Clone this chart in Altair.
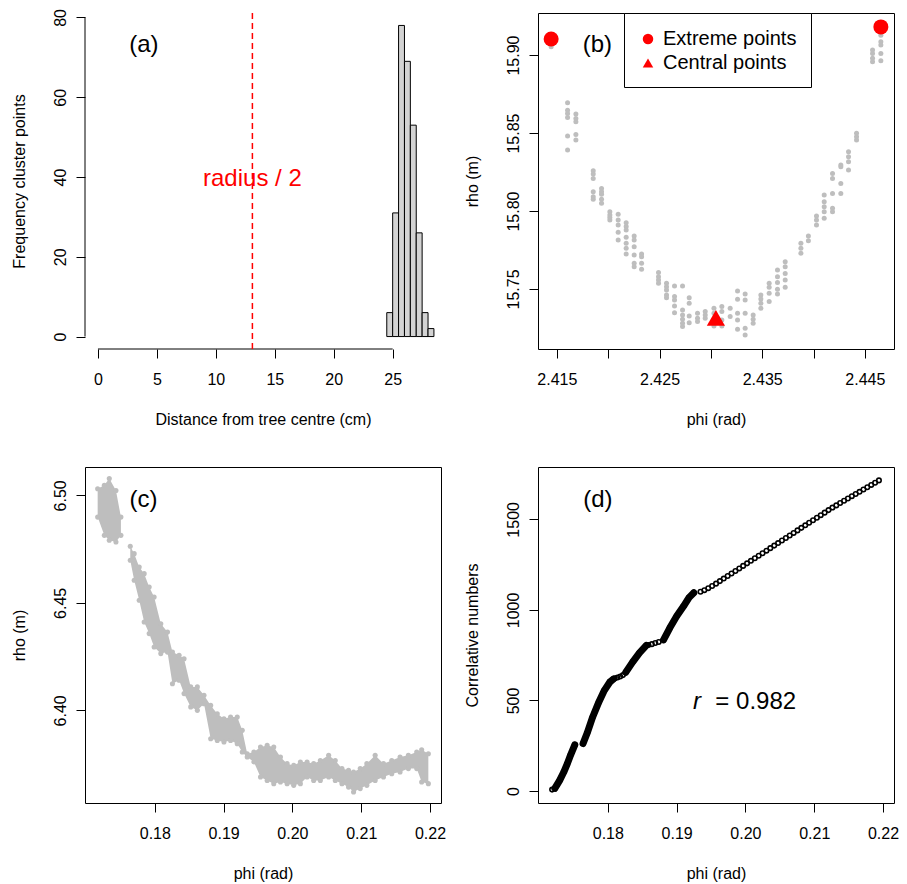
import altair as alt
import pandas as pd

FONT = "Liberation Sans"
W, H = 356, 336
GRAY = "#BEBEBE"

# ---------------- (a) histogram ----------------
a_bin_lo = [24.5, 25.0, 25.5, 26.0, 26.5, 27.0, 27.5, 28.0]
a_bin_hi = [25.0, 25.5, 26.0, 26.5, 27.0, 27.5, 28.0, 28.5]
a_counts = [6, 31, 78, 69, 53, 26, 6, 2]
a_half_radius = 13.1
a_xticks = [0, 5, 10, 15, 20, 25]
a_yticks = [0, 20, 40, 60, 80]
a_xdom = [-1.1, 29.1]
a_ydom = [-3.12, 81.12]

# ---------------- (b) rho vs phi, one tree section ----------------
b_col_phi = [2.41444, 2.41604, 2.41685, 2.41854, 2.41935, 2.42016, 2.42097, 2.42175,
             2.42253, 2.42325, 2.42490, 2.42568, 2.42646, 2.42724, 2.42789, 2.42870,
             2.42945, 2.43030, 2.43107, 2.43188, 2.43260, 2.43334, 2.43412, 2.43487,
             2.43568, 2.43649, 2.43724, 2.43877, 2.43950, 2.44029, 2.44104, 2.44185,
             2.44266, 2.44341, 2.44419, 2.44575, 2.44656]
b_col_rho = [
    [15.9053],
    [15.8694, 15.8647, 15.8626, 15.8600, 15.8481, 15.8391],
    [15.8622, 15.8594, 15.8573, 15.8491, 15.8455],
    [15.8259, 15.8237, 15.8209, 15.8124, 15.8092, 15.8075],
    [15.8145, 15.8124, 15.8107, 15.8075, 15.8049],
    [15.7996, 15.7974, 15.7959, 15.7942],
    [15.7979, 15.7942, 15.7910, 15.7863, 15.7814],
    [15.7925, 15.7900, 15.7878, 15.7831, 15.7793, 15.7761, 15.7724],
    [15.7840, 15.7814, 15.7771, 15.7718, 15.7665, 15.7643],
    [15.7724, 15.7707, 15.7665, 15.7626],
    [15.7605, 15.7579, 15.7558, 15.7536],
    [15.7536, 15.7515, 15.7494, 15.7462, 15.7444],
    [15.7519, 15.7451, 15.7429, 15.7391, 15.7348],
    [15.7519, 15.7365, 15.7333, 15.7306, 15.7280, 15.7259],
    [15.7444, 15.7408, 15.7327, 15.7284],
    [15.7344, 15.7312, 15.7291],
    [15.7355, 15.7333, 15.7312],
    [15.7376, 15.7344, 15.7301, 15.7263],
    [15.7387, 15.7355, 15.7301, 15.7263],
    [15.7376, 15.7323],
    [15.7487, 15.7434, 15.7344, 15.7301, 15.7241],
    [15.7468, 15.7429, 15.7344, 15.7248, 15.7205],
    [15.7333, 15.7306, 15.7280],
    [15.7462, 15.7436, 15.7408, 15.7376],
    [15.7536, 15.7511, 15.7472, 15.7419],
    [15.7622, 15.7579, 15.7541, 15.7498, 15.7468],
    [15.7675, 15.7643, 15.7600, 15.7558, 15.7511],
    [15.7793, 15.7761, 15.7729],
    [15.7840, 15.7810],
    [15.7968, 15.7942, 15.7910],
    [15.8103, 15.8060, 15.8028, 15.7996, 15.7953],
    [15.8241, 15.8209, 15.8113, 15.8017, 15.7996],
    [15.8295, 15.8284, 15.8177, 15.8113],
    [15.8380, 15.8348, 15.8316, 15.8263],
    [15.8498, 15.8476, 15.8455],
    [15.9032, 15.9011, 15.8979, 15.8957],
    [15.9128, 15.9085, 15.9064, 15.9011, 15.8964],
]
b_extreme_phi = [2.41444, 2.44656]
b_extreme_rho = [15.9103, 15.9181]
b_central_phi = [2.43049]
b_central_rho = [15.7314]
b_kinds = ["Extreme points", "Central points"]
b_xticks = [2.415, 2.420, 2.425, 2.430, 2.435, 2.440, 2.445]
b_yticks = [15.75, 15.80, 15.85, 15.90]
b_xdom = [2.41316, 2.44784]
b_ydom = [15.7115, 15.9270]

# ---------------- (c) rho vs phi, dense section (band envelope) ----------------
c_phi = [0.17169, 0.17266, 0.17338, 0.17435, 0.17507,
         0.17643, 0.17700, 0.17773, 0.17845, 0.17918, 0.17990, 0.18087, 0.18184, 0.18256,
         0.18353, 0.18425, 0.18522, 0.18618, 0.18715, 0.18812, 0.18908, 0.19005, 0.19101,
         0.19198, 0.19271, 0.19343, 0.19440, 0.19536, 0.19633, 0.19729, 0.19826, 0.19923,
         0.20019, 0.20116, 0.20213, 0.20309, 0.20406, 0.20527, 0.20623, 0.20720, 0.20816,
         0.20889, 0.20986, 0.21082, 0.21203, 0.21324, 0.21444, 0.21565, 0.21686, 0.21807,
         0.21879, 0.21976]
c_top = [6.5031, 6.5047, 6.5078, 6.5023, 6.4899,
         6.4763, 6.4729, 6.4667, 6.4636, 6.4574, 6.4527, 6.4403, 6.4364, 6.4271,
         6.4256, 6.4240, 6.4109, 6.4109, 6.4070, 6.4023, 6.3984, 6.3961, 6.3969,
         6.3969, 6.3907, 6.3798, 6.3806, 6.3829, 6.3837, 6.3829, 6.3783, 6.3752,
         6.3744, 6.3760, 6.3760, 6.3752, 6.3767, 6.3791, 6.3767, 6.3729, 6.3721,
         6.3713, 6.3729, 6.3752, 6.3791, 6.3752, 6.3767, 6.3783, 6.3791, 6.3806,
         6.3817, 6.3798]
c_bot = [6.4899, 6.4814, 6.4791, 6.4783, 6.4814,
         6.4698, 6.4605, 6.4512, 6.4411, 6.4357, 6.4295, 6.4264, 6.4271, 6.4124,
         6.4140, 6.4078, 6.4016, 6.4000, 6.4031, 6.3868, 6.3860, 6.3853, 6.3860,
         6.3845, 6.3806, 6.3783, 6.3760, 6.3690, 6.3674, 6.3659, 6.3667, 6.3659,
         6.3651, 6.3659, 6.3690, 6.3674, 6.3674, 6.3690, 6.3674, 6.3659, 6.3643,
         6.3620, 6.3636, 6.3651, 6.3674, 6.3690, 6.3705, 6.3713, 6.3729, 6.3729,
         6.3667, 6.3659]
c_group = [1] * 5 + [2] * 47
c_xticks = [0.18, 0.19, 0.20, 0.21, 0.22]
c_yticks = [6.40, 6.45, 6.50]
c_xdom = [0.16985, 0.2216]
c_ydom = [6.3569, 6.5132]

# ---------------- (d) correlative numbers vs phi ----------------
d_dense_phi = [0.1723, 0.1730, 0.1736, 0.1741, 0.1746, 0.1752,
               0.1764, 0.1770, 0.1778, 0.1787, 0.1795, 0.1803, 0.1808,
               0.1826, 0.1836, 0.1846, 0.1856,
               0.1881, 0.1890, 0.1900, 0.1910, 0.1918, 0.1925]
d_dense_n = [15, 59, 105, 150, 200, 255,
             262, 320, 409, 492, 556, 602, 618,
             655, 712, 763, 804,
             835, 900, 965, 1020, 1068, 1095]
d_dense_group = [1] * 6 + [2] * 7 + [3] * 4 + [4] * 6
d_open_phi = [0.1719, 0.1810, 0.1814, 0.1818, 0.1822, 0.1859, 0.1864, 0.1869, 0.1874,
              0.19347, 0.19403, 0.19460, 0.19516, 0.19573, 0.19629, 0.19685, 0.19742,
              0.19798, 0.19855, 0.19911, 0.19967, 0.20024, 0.20080, 0.20137, 0.20193,
              0.20249, 0.20306, 0.20362, 0.20419, 0.20475, 0.20531, 0.20588, 0.20644,
              0.20701, 0.20757, 0.20813, 0.20870, 0.20926, 0.20983, 0.21039, 0.21095,
              0.21152, 0.21208, 0.21265, 0.21321, 0.21377, 0.21434, 0.21490, 0.21547,
              0.21603, 0.21659, 0.21716, 0.21772, 0.21829, 0.21885, 0.21941]
d_open_n = [8, 622, 627, 632, 640, 806, 811, 817, 823,
            1100, 1109, 1120, 1132, 1145, 1159, 1173, 1187, 1201, 1215, 1229, 1243,
            1257, 1271, 1285, 1299, 1313, 1327, 1341, 1355, 1369, 1383, 1397, 1411,
            1425, 1439, 1453, 1467, 1481, 1495, 1509, 1523, 1537, 1551, 1565, 1577,
            1590, 1603, 1615, 1628, 1640, 1652, 1665, 1677, 1690, 1702, 1715]
d_r_value = "= 0.982"
d_xticks = [0.18, 0.19, 0.20, 0.21, 0.22]
d_yticks = [0, 500, 1000, 1500]
d_ydom = [-66, 1789]


# ---------------- helpers ----------------
def ax_x(values, fmt, title, expr=None):
    d = dict(values=values, format=fmt, title=title, domain=False, grid=False, ticks=True,
             tickSize=9, tickColor="black", tickWidth=1, labelAngle=0, labelAlign="center",
             labelBaseline="top", labelPadding=13, labelFont=FONT, labelFontSize=16,
             labelColor="black", labelOverlap=False, labelFlush=False,
             titleFont=FONT, titleFontSize=16, titleFontWeight="normal", titleColor="black",
             titleX=W / 2, titleY=70, titleAlign="center", titleBaseline="middle", titleAngle=0)
    if expr:
        d["labelExpr"] = expr
    return alt.Axis(**d)


def ax_y(values, fmt, title):
    return alt.Axis(values=values, format=fmt, title=title, domain=False, grid=False, ticks=True,
                    tickSize=9, tickColor="black", tickWidth=1, labelAngle=270,
                    labelAlign="center", labelBaseline="bottom", labelPadding=8,
                    labelFont=FONT, labelFontSize=16, labelColor="black",
                    labelOverlap=False, labelFlush=False,
                    titleFont=FONT, titleFontSize=16, titleFontWeight="normal",
                    titleColor="black", titleX=-66, titleY=H / 2, titleAlign="center",
                    titleBaseline="middle", titleAngle=270)


def enc(xs, xa, ys, ya):
    def X(f):
        return alt.X(f, type="quantitative", scale=xs, axis=xa)

    def Y(f):
        return alt.Y(f, type="quantitative", scale=ys, axis=ya)
    return X, Y


def label(X, Y, x, y, text, color="black", size=24, align="center", style="normal"):
    df = pd.DataFrame({"x": [x], "y": [y], "t": [text]})
    return alt.Chart(df).mark_text(font=FONT, fontSize=size, color=color, align=align,
                                   baseline="middle", fontStyle=style).encode(
        x=X("x"), y=Y("y"), text="t:N")


# ---------------- panel (a) ----------------
Xa, Ya = enc(alt.Scale(domain=a_xdom, nice=False, zero=False),
             ax_x(a_xticks, "d", "Distance from tree centre (cm)"),
             alt.Scale(domain=a_ydom, nice=False, zero=False),
             ax_y(a_yticks, "d", "Frequency cluster points"))
a_df = pd.DataFrame({"lo": a_bin_lo, "hi": a_bin_hi, "n": a_counts, "base": [0] * len(a_counts)})
a_bars = alt.Chart(a_df).mark_rect(fill="#D3D3D3", stroke="black", strokeWidth=1).encode(
    x=Xa("lo"), x2="hi:Q", y=Ya("n"), y2="base:Q")
a_axis_df = pd.DataFrame({
    "x": [min(a_xticks), a_xdom[0]], "x2": [max(a_xticks), a_xdom[0]],
    "y": [a_ydom[0], min(a_yticks)], "y2": [a_ydom[0], max(a_yticks)]})
a_axlines = alt.Chart(a_axis_df).mark_rule(color="black", strokeWidth=1).encode(
    x=Xa("x"), x2="x2:Q", y=Ya("y"), y2="y2:Q")
a_dash = alt.Chart(pd.DataFrame({"x": [a_half_radius]})).mark_rule(
    color="red", strokeDash=[6, 4], strokeWidth=1.5).encode(x=Xa("x"))
panel_a = alt.layer(
    a_bars, a_axlines, a_dash,
    label(Xa, Ya, 3.9, 73.1, "(a)"),
    label(Xa, Ya, a_half_radius, 39.6, "radius / 2", color="red"),
).properties(width=W, height=H, view=alt.ViewBackground(stroke="transparent"))

# ---------------- panel (b) ----------------
Xb, Yb = enc(alt.Scale(domain=b_xdom, nice=False, zero=False),
             ax_x(b_xticks, ".3f", "phi (rad)",
                  expr="round(datum.value*1000) % 10 == 5 ? datum.label : ''"),
             alt.Scale(domain=b_ydom, nice=False, zero=False),
             ax_y(b_yticks, ".2f", "rho (m)"))
b_phi, b_rho = [], []
for p, col in zip(b_col_phi, b_col_rho):
    for r in col:
        b_phi.append(p)
        b_rho.append(r)
b_pts = alt.Chart(pd.DataFrame({"phi": b_phi, "rho": b_rho})).mark_circle(
    color=GRAY, size=25, opacity=1).encode(x=Xb("phi"), y=Yb("rho"))

b_shape = alt.Shape(
    "kind:N", scale=alt.Scale(domain=b_kinds, range=["circle", "triangle-up"]),
    legend=alt.Legend(orient="none", legendX=86, legendY=0, title=" ",
                      titleFontSize=1, titlePadding=1,
                      direction="vertical", strokeColor="black", fillColor="white",
                      padding=14, labelFont=FONT, labelFontSize=20, labelColor="black",
                      labelOffset=5, labelLimit=300, symbolSize=110,
                      symbolFillColor="red", symbolStrokeColor="red", symbolStrokeWidth=0,
                      rowPadding=4, offset=0))
b_ext = alt.Chart(pd.DataFrame({"phi": b_extreme_phi, "rho": b_extreme_rho,
                                "kind": [b_kinds[0]] * len(b_extreme_phi)})).mark_point(
    filled=True, color="red", opacity=1, size=225, strokeWidth=0).encode(
    x=Xb("phi"), y=Yb("rho"), shape=b_shape)
b_cen = alt.Chart(pd.DataFrame({"phi": b_central_phi, "rho": b_central_rho,
                                "kind": [b_kinds[1]] * len(b_central_phi)})).mark_point(
    filled=True, color="red", opacity=1, size=330, strokeWidth=0).encode(
    x=Xb("phi"), y=Yb("rho"), shape=b_shape)
panel_b = alt.layer(
    b_pts, b_ext, b_cen, label(Xb, Yb, 2.41895, 15.9064, "(b)")
).properties(width=W, height=H)

# ---------------- panel (c) ----------------
Xc, Yc = enc(alt.Scale(domain=c_xdom, nice=False, zero=False),
             ax_x(c_xticks, ".2f", "phi (rad)"),
             alt.Scale(domain=c_ydom, nice=False, zero=False),
             ax_y(c_yticks, ".2f", "rho (m)"))
c_df = pd.DataFrame({"phi": c_phi, "top": c_top, "bot": c_bot, "g": c_group})
c_area = alt.Chart(c_df).mark_area(color=GRAY, opacity=1).encode(
    x=Xc("phi"), y=Yc("top"), y2="bot:Q", detail="g:N")
c_edge = alt.Chart(pd.DataFrame({"phi": c_phi + c_phi, "rho": c_top + c_bot})).mark_circle(
    color=GRAY, size=26, opacity=1).encode(x=Xc("phi"), y=Yc("rho"))
panel_c = alt.layer(
    c_area, c_edge, label(Xc, Yc, 0.17836, 6.4977, "(c)")
).properties(width=W, height=H)

# ---------------- panel (d) ----------------
Xd, Yd = enc(alt.Scale(domain=c_xdom, nice=False, zero=False),
             ax_x(d_xticks, ".2f", "phi (rad)"),
             alt.Scale(domain=d_ydom, nice=False, zero=False),
             ax_y(d_yticks, "d", "Correlative numbers"))
d_dense = pd.DataFrame({"phi": d_dense_phi, "n": d_dense_n, "g": d_dense_group})
d_line = alt.Chart(d_dense).mark_line(color="black", strokeWidth=7, strokeCap="round",
                                      strokeJoin="round").encode(
    x=Xd("phi"), y=Yd("n"), detail="g:N")
d_open = alt.Chart(pd.DataFrame({"phi": d_open_phi + d_dense_phi, "n": d_open_n + d_dense_n})
                   ).mark_point(shape="circle", filled=False, color="black", size=20,
                                strokeWidth=1.6, opacity=1).encode(x=Xd("phi"), y=Yd("n"))
panel_d = alt.layer(
    d_line, d_open,
    label(Xd, Yd, 0.17856, 1605, "(d)"),
    label(Xd, Yd, 0.19298, 491, "r", style="italic"),
    label(Xd, Yd, 0.19563, 491, d_r_value, align="left"),
).properties(width=W, height=H)

chart = alt.concat(
    panel_a, panel_b, panel_c, panel_d, columns=2,
    spacing={"row": 118, "column": 97}, bounds="flush",
).resolve_scale(shape="independent").resolve_legend(
    shape="independent"
).properties(
    padding={"left": 10, "top": 8, "right": 5, "bottom": 5}, background="white"
).configure_view(stroke="black", strokeWidth=1)

chart.save("out.html", embed_options={"renderer": "svg", "actions": False})
